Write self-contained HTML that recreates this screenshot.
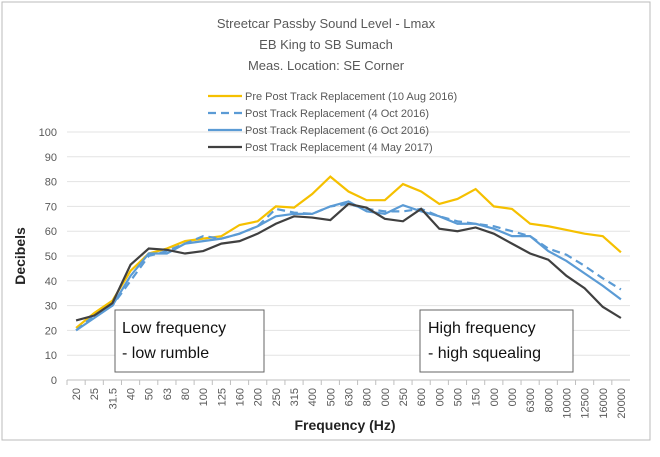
<!DOCTYPE html>
<html><head><meta charset="utf-8"><style>
body{margin:0;background:#fff;font-family:"Liberation Sans",sans-serif}
svg text{font-family:"Liberation Sans",sans-serif}
</style></head><body>
<svg id="c" width="660" height="452">
<rect x="2" y="2" width="648" height="438" fill="#fff" stroke="#bbb"/>
<text x="326" y="28" text-anchor="middle" font-size="13" fill="#595959">Streetcar Passby Sound Level - Lmax</text>
<text x="326" y="49" text-anchor="middle" font-size="13" fill="#595959">EB King to SB Sumach</text>
<text x="326" y="70" text-anchor="middle" font-size="13" fill="#595959">Meas. Location: SE Corner</text>
<text transform="translate(25,256) rotate(-90)" text-anchor="middle" font-size="14" font-weight="bold" fill="#222">Decibels</text>
<text x="345" y="430" text-anchor="middle" font-size="14" font-weight="bold" fill="#222">Frequency (Hz)</text>
<g id="grid"></g><g id="series"></g><g id="legend"></g>
<rect x="115" y="310" width="149" height="62" fill="#fff" stroke="#666"/>
<text x="122" y="333" font-size="16" fill="#111">Low frequency</text>
<text x="122" y="358" font-size="16" fill="#111">- low rumble</text>
<rect x="420" y="310" width="153" height="62" fill="#fff" stroke="#666"/>
<text x="428" y="333" font-size="16" fill="#111">High frequency</text>
<text x="428" y="358" font-size="16" fill="#111">- high squealing</text>
</svg>
<script>
const categories=["20","25","31.5","40","50","63","80","100","125","160","200","250","315","400","500","630","800","000","250","600","000","500","150","000","000","6300","8000","10000","12500","16000","20000"];
const yTicks=[0,10,20,30,40,50,60,70,80,90,100];
const preAug2016=[21,27,32,44,51,53,56,57,58,62.5,64,70,69.5,75,82,76,72.5,72.5,79,76,71,73,77,70,69,63,62,60.5,59,58,51.5];
const postOct4=[20,26,30,40,50,52,55,58,57,59,62,69,67.5,67,70,71,69,68,68,69,66,64,63,62,60,58,53,50.5,46,41,36.5];
const postOct6=[20,25,30,42,51,51,55,56,57,59,62,66,67,67,70,72,68,67,70.5,68,66,63,63,61,58,58,52,48,43,38,32.5];
const postMay2017=[24,26,31,46.5,53,52.5,51,52,55,56,59,63,66,65.5,64.5,71,69.5,65,64,69,61,60,61.5,59,55,51,48.5,42,37,29.5,25];
const seriesNames=["Pre Post Track Replacement (10 Aug 2016)","Post Track Replacement (4 Oct 2016)","Post Track Replacement (6 Oct 2016)","Post Track Replacement (4 May 2017)"];
const NS="http://www.w3.org/2000/svg";
const x0=67,x1=630,y0=380,y1=132;
const step=(x1-x0)/categories.length;
const X=i=>x0+step*(i+0.5);
const Y=v=>y0-(v/100)*(y0-y1);
function mk(t,a,p){const e=document.createElementNS(NS,t);for(const k in a)e.setAttribute(k,a[k]);p.appendChild(e);return e;}
const g=document.getElementById('grid');
yTicks.forEach(v=>{
 const l=mk('line',{x1:x0,x2:x1,y1:Y(v),y2:Y(v),stroke:v===0?'#bfbfbf':'#e3e3e3'},g);
 
 
 const t=mk('text',{x:x0-10,y:Y(v)+4,'text-anchor':'end','font-size':11,fill:'#595959'},g);
 t.textContent=v;
 
 
});
categories.forEach((c,i)=>{
 const tk=mk('line',{x1:x0+step*i,x2:x0+step*i,y1:y0,y2:y0+5,stroke:'#bfbfbf'},g);
 
 
 const t=mk('text',{transform:`translate(${X(i)+4},${y0+8}) rotate(-90)`,'text-anchor':'end','font-size':11,fill:'#595959'},g);
 t.textContent=c;
 
 
});
const styles=[{c:'#f5c000',d:''},{c:'#5b9bd5',d:'8,5'},{c:'#5b9bd5',d:''},{c:'#404040',d:''}];
const data=[preAug2016,postOct4,postOct6,postMay2017];
const sg=document.getElementById('series');
data.forEach((arr,k)=>{
 const p=mk('polyline',{points:arr.map((v,i)=>X(i)+','+Y(v)).join(' '),fill:'none',stroke:styles[k].c,'stroke-width':2.2,'stroke-dasharray':styles[k].d},sg);
 
 
});
const lg=document.getElementById('legend');
seriesNames.forEach((n,k)=>{
 const y=96+k*17;
 const l=mk('line',{x1:208,x2:242,y1:y,y2:y,stroke:styles[k].c,'stroke-width':2.2,'stroke-dasharray':styles[k].d},lg);
 
 
 const t=mk('text',{x:245,y:y+4,'font-size':11,fill:'#595959'},lg);
 t.textContent=n;
 
 
});
</script>
</body></html>
